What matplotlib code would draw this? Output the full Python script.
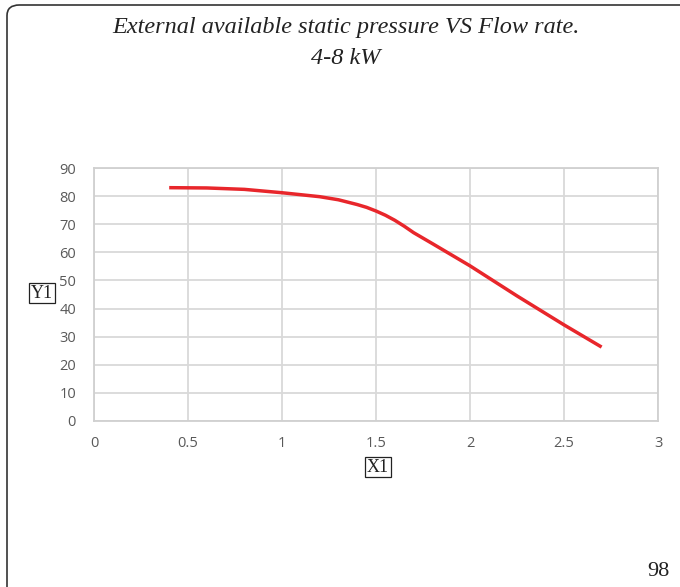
import matplotlib
matplotlib.use("Agg")
import matplotlib.pyplot as plt
from matplotlib.patches import FancyBboxPatch

# flow rate vs external static pressure, 4-8 kW
flow = [0.4, 0.6, 0.8, 1.0, 1.2, 1.3, 1.4, 1.45, 1.5, 1.55, 1.6, 1.65, 1.7, 1.8, 2.0, 2.25, 2.5, 2.7]
pressure = [83.0, 82.9, 82.4, 81.2, 79.8, 78.7, 77.0, 76.0, 74.7, 73.2, 71.4, 69.3, 67.0, 63.1, 55.2, 44.5, 34.2, 26.3]

x_ticks = [0, 0.5, 1, 1.5, 2, 2.5, 3]
x_tick_labels = ["0", "0.5", "1", "1.5", "2", "2.5", "3"]
y_ticks = [0, 10, 20, 30, 40, 50, 60, 70, 80, 90]

title_1 = "External available static pressure VS Flow rate."
title_2 = "4-8 kW"
page_no = "98"

fig = plt.figure(figsize=(6.8, 5.87), dpi=100)

# rounded page frame (only left/top visible)
frame = FancyBboxPatch((7 / 680, -0.05), 1.2, 1.05 - 5 / 587,
                       boxstyle="round,pad=0,rounding_size=0.018",
                       transform=fig.transFigure, fill=False,
                       edgecolor="#333333", linewidth=1.2)
fig.patches.append(frame)

ax = fig.add_axes([94 / 680, 1 - 421 / 587, 564 / 680, 253 / 587])
ax.plot(flow, pressure, color="#e8262b", linewidth=2.5, solid_capstyle="butt")

ax.set_xlim(0, 3)
ax.set_ylim(0, 90)
ax.set_xticks(x_ticks)
ax.set_xticklabels(x_tick_labels)
ax.set_yticks(y_ticks)
ax.grid(True, color="#d9d9d9", linewidth=1.3)
ax.set_axisbelow(True)
for s in ax.spines.values():
    s.set_color("#d0d0d0")
    s.set_linewidth(1.3)
ax.tick_params(length=0, labelsize=10.5, labelcolor="#595959")
ax.tick_params(axis="y", pad=13)
ax.tick_params(axis="x", pad=11)
for lab in ax.get_xticklabels() + ax.get_yticklabels():
    lab.set_fontfamily("Open Sans")

fig.text(346 / 680, 1 - 28 / 587, title_1, ha="center", va="center",
         fontsize=17.5, family="Liberation Serif", style="italic", color="#222222")
fig.text(346 / 680, 1 - 58 / 587, title_2, ha="center", va="center",
         fontsize=17.5, family="Liberation Serif", style="italic", color="#222222")

box = dict(boxstyle="square,pad=0.1", facecolor="white", edgecolor="#222222", linewidth=0.9)
fig.text(42 / 680, 1 - 293 / 587, "Y1", ha="center", va="center", fontsize=13,
         family="Liberation Serif", color="#222222", bbox=box)
fig.text(378 / 680, 1 - 467 / 587, "X1", ha="center", va="center", fontsize=13,
         family="Liberation Serif", color="#222222", bbox=box)
fig.text(658 / 680, 1 - 571 / 587, page_no, ha="center", va="center", fontsize=16,
         family="Liberation Serif", color="#222222")

fig.savefig("out.png", dpi=100)
